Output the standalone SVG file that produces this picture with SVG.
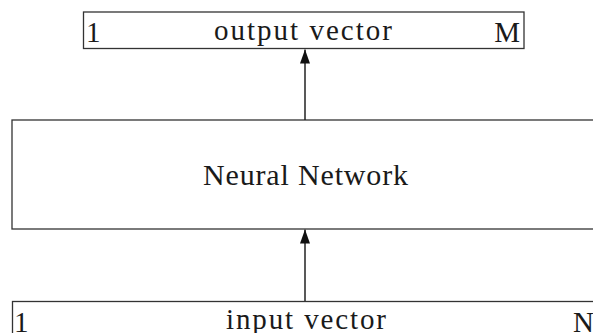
<svg xmlns="http://www.w3.org/2000/svg" width="593" height="333" viewBox="0 0 593 333">
<style>
.box{fill:#fff;stroke:#333;stroke-width:1.3}
.t{font-size:29px;fill:#1a1a1a}
.c{stroke:#222;stroke-width:1.5;fill:none}
</style>
<defs>
<marker id="ah" viewBox="0 0 14 10" refX="14" refY="5" markerWidth="14" markerHeight="10" markerUnits="userSpaceOnUse" orient="auto">
<path d="M0,0 L14,5 L0,10 Z" fill="#111"/>
</marker>
</defs>
<rect width="593" height="333" fill="#fff"/>
<g id="output" font-family="'Liberation Serif', 'DejaVu Serif', serif">
<rect class="box" x="83.5" y="12" width="440.5" height="36.5"/>
<text class="t" x="86" y="42">1</text>
<text class="t" x="214" y="39.5" textLength="178" lengthAdjust="spacing">output vector</text>
<text class="t" x="520" y="42" text-anchor="end">M</text>
</g>
<g id="network" font-family="'Liberation Serif', 'DejaVu Serif', serif">
<rect class="box" x="12" y="120" width="600" height="109"/>
<text class="t" x="203" y="185" font-size="30" style="font-size:30px" textLength="205" lengthAdjust="spacing">Neural Network</text>
</g>
<g id="input" font-family="'Liberation Serif', 'DejaVu Serif', serif">
<rect class="box" x="12.5" y="301.5" width="600" height="50"/>
<text class="t" x="14" y="332">1</text>
<text class="t" x="226" y="329" textLength="160" lengthAdjust="spacing">input vector</text>
<text class="t" x="573" y="332">N</text>
</g>
<g id="connectors">
<line class="c" x1="305" y1="120" x2="305" y2="49.5" marker-end="url(#ah)"/>
<line class="c" x1="305" y1="301" x2="305" y2="229.5" marker-end="url(#ah)"/>
</g>
</svg>
